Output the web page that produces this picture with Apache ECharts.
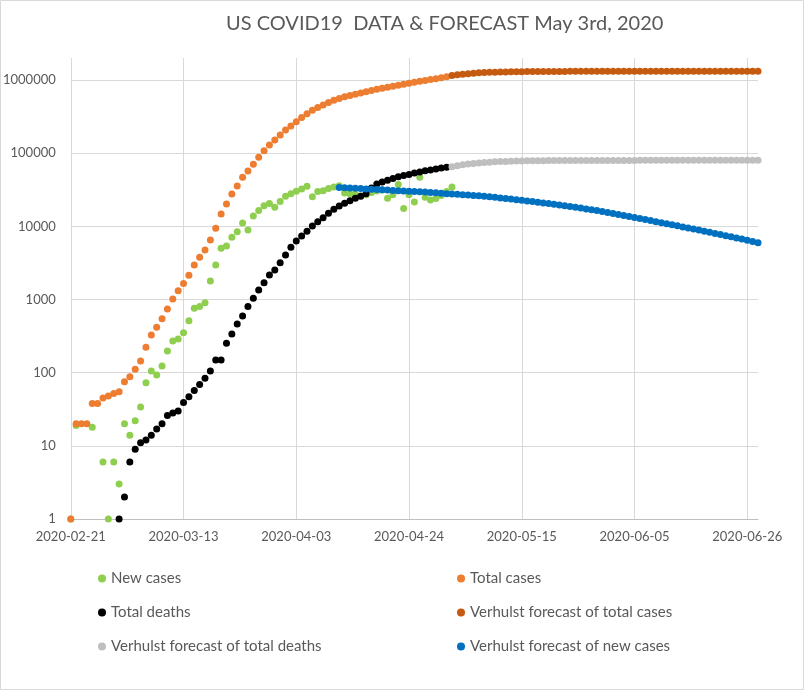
<!DOCTYPE html>
<html><head><meta charset="utf-8">
<script src="https://cdn.jsdelivr.net/npm/echarts@6/dist/echarts.min.js"></script>
<style>html,body{margin:0;padding:0;background:#fff}#chart{width:804px;height:690px}</style>
</head><body><div id="chart"></div>
<script>
// ---- data (x = days since startDate) ----
const startDate = '2020-02-21';
const dayStep = 21;          // spacing of the date tick labels
const lastDay = 128;         // 2020-06-28
const yMax = 2000000;
const titleText = 'US COVID19  DATA & FORECAST May 3rd, 2020';

const seriesNames = ['New cases', 'Total cases', 'Total deaths',
  'Verhulst forecast of total cases', 'Verhulst forecast of total deaths', 'Verhulst forecast of new cases'];

// New cases, day 0 .. 71 (null = zero, not drawable on a log axis)
const newCasesStart = 0;
const newCases = [1, 19, null, null, 18, null, 6, 1, 6, 3,
  20, 14, 22, 34, 73, 105, 93, 123, 198, 271,
  288, 352, 513, 760, 800, 904, 1790, 2960, 5000, 5400,
  7100, 8450, 11100, 8900, 13800, 16500, 19100, 20500, 18200, 21800,
  25700, 27900, 30300, 32500, 35200, 25300, 30000, 30700, 32900, 34500,
  36000, 28500, 28000, 27500, 26000, 27000, 29000, 30500, 31500, 24200,
  27000, 37300, 17600, 27000, 21600, 47000, 25000, 23000, 24000, 26500,
  30000, 34500];

// Total cases, day 0 .. 70
const totalCasesStart = 0;
const totalCases = [1, 20, 20, 20, 38, 38, 45, 48, 52, 55,
  75, 88, 111, 144, 222, 327, 417, 547, 741, 1016,
  1318, 1660, 2140, 2958, 3770, 4740, 6500, 9400, 14700, 20200,
  27700, 35600, 46800, 57000, 70400, 87800, 108000, 129000, 151000, 177000,
  207000, 235000, 269000, 308000, 345000, 385000, 420000, 455000, 492000, 528000,
  560000, 590000, 615000, 640000, 665000, 692000, 720000, 748000, 772000, 797000,
  822000, 848000, 875000, 905000, 935000, 962000, 988000, 1013000, 1040000, 1070000,
  1105000];

// Total deaths, day 9 .. 70
const totalDeathsStart = 9;
const totalDeaths = [1, 2, 6, 9, 11, 12, 14, 17, 20, 26,
  28, 30, 39, 47, 57, 69, 84, 105, 149, 149,
  252, 337, 462, 594, 800, 1040, 1350, 1700, 2160, 2530,
  3190, 4060, 5160, 6300, 7400, 8600, 10100, 11600, 13100, 15100,
  17100, 19000, 20700, 22400, 24200, 25700, 28000, 33500, 38000, 40500,
  42500, 45000, 47500, 49500, 51000, 53500, 55500, 57500, 59000, 61000,
  62500, 64000];

// Verhulst forecast of total cases, day 71 .. 128
const fcTotalCasesStart = 71;
const fcTotalCases = [1150000, 1178000, 1202000, 1222000, 1239000, 1253000, 1264000, 1273000, 1281000, 1287000,
  1292000, 1296000, 1299000, 1302000, 1304000, 1306000, 1307500, 1309000, 1310000, 1311000,
  1311800, 1312500, 1313000, 1313500, 1314000, 1314300, 1314600, 1314900, 1315100, 1315300,
  1315500, 1315600, 1315700, 1315800, 1315900, 1316000, 1316000, 1316100, 1316100, 1316200,
  1316200, 1316200, 1316300, 1316300, 1316300, 1316300, 1316400, 1316400, 1316400, 1316400,
  1316400, 1316400, 1316500, 1316500, 1316500, 1316500, 1316500, 1316500];

// Verhulst forecast of total deaths, day 71 .. 128
const fcDeathsStart = 71;
const fcDeaths = [65500, 67500, 69300, 70900, 72300, 73500, 74500, 75400, 76100, 76700,
  77200, 77600, 78000, 78300, 78550, 78750, 78900, 79050, 79150, 79250,
  79330, 79400, 79460, 79510, 79550, 79590, 79620, 79650, 79670, 79690,
  79710, 79720, 79730, 79740, 79750, 79760, 79770, 79775, 79780, 79785,
  79790, 79795, 79800, 79800, 79800, 79805, 79805, 79810, 79810, 79810,
  79815, 79815, 79815, 79820, 79820, 79820, 79820, 79820];

// Verhulst forecast of new cases, day 50 .. 128
const fcNewCasesStart = 50;
const fcNewCases = [34000, 33700, 33400, 33100, 32800, 32500, 32200, 31900, 31600, 31300,
  31000, 30750, 30500, 30250, 30000, 29700, 29400, 29050, 28700, 28350,
  28000, 27700, 27400, 27100, 26800, 26500, 26100, 25700, 25300, 24900,
  24500, 24050, 23600, 23150, 22700, 22250, 21800, 21350, 20900, 20450,
  20000, 19550, 19100, 18650, 18200, 17800, 17330, 16870, 16410, 15950,
  15500, 15030, 14570, 14110, 13650, 13200, 12790, 12390, 11990, 11590,
  11200, 10850, 10500, 10160, 9830, 9500, 9190, 8880, 8580, 8290,
  8000, 7730, 7460, 7200, 6950, 6700, 6440, 6190, 5950];

const colors = ['#8fcf50', '#ed7d31', '#000000', '#c55a11', '#bfbfbf', '#0070c0'];

// ---- chart ----
function pts(start, arr) {
  const out = [];
  arr.forEach((v, i) => { if (v != null) out.push([start + i, v]); });
  return out;
}
const startMs = Date.parse(startDate + 'T00:00:00Z');
function dayLabel(v) {
  if (Math.round(v) % dayStep !== 0) return '';
  return new Date(startMs + Math.round(v) * 86400000).toISOString().slice(0, 10);
}
const font = 'Lato, "Open Sans", sans-serif';
const txt = '#595959';

const dataSets = [
  pts(newCasesStart, newCases), pts(totalCasesStart, totalCases), pts(totalDeathsStart, totalDeaths),
  pts(fcTotalCasesStart, fcTotalCases), pts(fcDeathsStart, fcDeaths), pts(fcNewCasesStart, fcNewCases)
];

const chart = echarts.init(document.getElementById('chart'), null, {renderer: 'canvas'});
const legendStyle = {
  orient: 'vertical', icon: 'circle', itemWidth: 8, itemHeight: 8, itemGap: 19, top: 566,
  textStyle: {color: txt, fontSize: 15, fontFamily: font, lineHeight: 15}
};
chart.setOption({
  animation: false,
  backgroundColor: '#fff',
  title: {text: titleText, left: 221, top: 9,
    textStyle: {color: txt, fontSize: 20, fontWeight: 'normal', fontFamily: font}},
  legend: [
    Object.assign({left: 93, data: [seriesNames[0], seriesNames[2], seriesNames[4]]}, legendStyle),
    Object.assign({left: 452, data: [seriesNames[1], seriesNames[3], seriesNames[5]]}, legendStyle)
  ],
  grid: {left: 69, right: 46, top: 58, bottom: 171},
  xAxis: {
    type: 'value', min: 0, max: lastDay, interval: dayStep,
    axisLine: {show: true, lineStyle: {color: '#bfbfbf'}},
    axisTick: {show: false},
    splitLine: {show: true, showMinLine: true, showMaxLine: false, lineStyle: {color: '#d9d9d9'}},
    axisLabel: {color: txt, fontSize: 13, fontFamily: font, margin: 11, formatter: dayLabel, showMaxLabel: true}
  },
  yAxis: {
    type: 'log', logBase: 10, min: 1, max: yMax, splitNumber: 6,
    axisLine: {show: false}, axisTick: {show: false},
    splitLine: {show: true, showMaxLine: false, lineStyle: {color: '#d9d9d9'}},
    axisLabel: {color: txt, fontSize: 13, fontFamily: font, margin: 15,
      formatter: function (v) {
        const l = Math.log10(v);
        return Math.abs(l - Math.round(l)) < 1e-6 ? String(Math.round(v)) : '';
      }}
  },
  graphic: [{type: 'rect', shape: {x: 0.5, y: 0.5, width: 803, height: 689},
    style: {fill: 'none', stroke: '#d9d9d9', lineWidth: 1}, silent: true}],
  series: seriesNames.map((name, i) => ({
    name: name, type: 'scatter', symbol: 'circle', symbolSize: 7,
    itemStyle: {color: colors[i], opacity: 1},
    data: dataSets[i], z: 2 + i
  }))
});
</script></body></html>
